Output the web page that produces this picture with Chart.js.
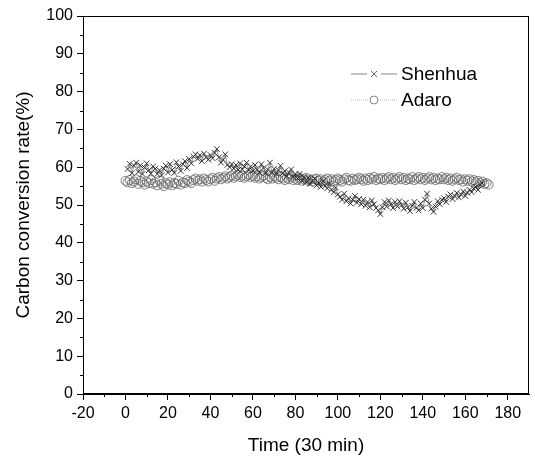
<!DOCTYPE html>
<html>
<head>
<meta charset="utf-8">
<script src="https://cdn.jsdelivr.net/npm/chart.js@4.4.0/dist/chart.umd.min.js"></script>
<style>
	body { margin: 0; background: #fff; }
	#grafico { display: block; }
</style>
</head>
<body>
<canvas id="grafico" width="535" height="461"></canvas>
<script>
// serie
var shenhuaTime = [
	1, 2, 3, 4, 5, 6, 7, 8, 9, 10,
	11, 12, 13, 14, 15, 16, 17, 18, 19, 20,
	21, 22, 23, 24, 25, 26, 27, 28, 29, 30,
	31, 32, 33, 34, 35, 36, 37, 38, 39, 40,
	41, 42, 43, 44, 45, 46, 47, 48, 49, 50,
	51, 52, 53, 54, 55, 56, 57, 58, 59, 60,
	61, 62, 63, 64, 65, 66, 67, 68, 69, 70,
	71, 72, 73, 74, 75, 76, 77, 78, 79, 80,
	81, 82, 83, 84, 85, 86, 87, 88, 89, 90,
	91, 92, 93, 94, 95, 96, 97, 98, 99, 100,
	101, 102, 103, 104, 105, 106, 107, 108, 109, 110,
	111, 112, 113, 114, 115, 116, 117, 118, 119, 120,
	121, 122, 123, 124, 125, 126, 127, 128, 129, 130,
	131, 132, 133, 134, 135, 136, 137, 138, 139, 140,
	141, 142, 143, 144, 145, 146, 147, 148, 149, 150,
	151, 152, 153, 154, 155, 156, 157, 158, 159, 160,
	161, 162, 163, 164, 165, 166, 167, 168
];
var shenhuaRate = [
	59.5, 60.9, 58.4, 60.4, 61.2, 58.8, 60.5, 58.2, 59.9, 61.0,
	59.2, 58.3, 60.2, 59.6, 58.2, 59.2, 57.9, 59.6, 60.4, 58.6,
	60.8, 59.3, 58.5, 61.3, 60.2, 59.0, 60.8, 61.6, 59.8, 62.2,
	61.0, 62.8, 63.4, 62.2, 63.2, 61.6, 63.6, 62.6, 62.0, 63.2,
	62.4, 63.8, 64.8, 62.6, 61.2, 62.0, 63.4, 60.6, 60.0, 60.8,
	59.6, 60.6, 59.3, 61.0, 59.4, 60.2, 61.2, 59.2, 60.2, 59.0,
	60.6, 59.4, 58.6, 60.8, 59.8, 58.4, 59.4, 61.2, 58.6, 59.6,
	58.2, 59.2, 60.4, 58.4, 59.0, 57.6, 58.6, 59.4, 57.4, 58.2,
	57.0, 58.2, 56.4, 57.4, 56.0, 57.2, 55.6, 56.4, 57.0, 55.2,
	55.8, 54.8, 56.4, 55.0, 54.4, 55.6, 54.0, 53.4, 54.6, 52.8,
	52.2, 51.4, 53.0, 51.0, 51.8, 50.4, 51.4, 52.4, 50.6, 51.6,
	50.2, 51.4, 49.8, 50.8, 49.4, 51.2, 50.2, 49.2, 48.6, 47.6,
	49.4, 50.8, 49.6, 51.2, 50.2, 49.2, 50.8, 49.6, 51.0, 50.0,
	49.0, 50.6, 49.4, 48.4, 49.8, 50.8, 49.2, 48.6, 50.4, 49.2,
	51.4, 53.0, 50.4, 49.0, 48.2, 49.6, 51.0, 50.2, 51.4, 51.8,
	50.8, 52.2, 52.8, 51.6, 52.4, 53.2, 52.0, 52.8, 53.6, 52.4,
	53.2, 54.0, 53.4, 54.4, 54.8, 54.0, 55.4, 55.8
];
var adaroTime = [
	0, 1, 2, 3, 4, 5, 6, 7, 8, 9,
	10, 11, 12, 13, 14, 15, 16, 17, 18, 19,
	20, 21, 22, 23, 24, 25, 26, 27, 28, 29,
	30, 31, 32, 33, 34, 35, 36, 37, 38, 39,
	40, 41, 42, 43, 44, 45, 46, 47, 48, 49,
	50, 51, 52, 53, 54, 55, 56, 57, 58, 59,
	60, 61, 62, 63, 64, 65, 66, 67, 68, 69,
	70, 71, 72, 73, 74, 75, 76, 77, 78, 79,
	80, 81, 82, 83, 84, 85, 86, 87, 88, 89,
	90, 91, 92, 93, 94, 95, 96, 97, 98, 99,
	100, 101, 102, 103, 104, 105, 106, 107, 108, 109,
	110, 111, 112, 113, 114, 115, 116, 117, 118, 119,
	120, 121, 122, 123, 124, 125, 126, 127, 128, 129,
	130, 131, 132, 133, 134, 135, 136, 137, 138, 139,
	140, 141, 142, 143, 144, 145, 146, 147, 148, 149,
	150, 151, 152, 153, 154, 155, 156, 157, 158, 159,
	160, 161, 162, 163, 164, 165, 166, 167, 168, 169,
	170, 171
];
var adaroRate = [
	56.4, 56.0, 56.6, 55.8, 56.2, 56.8, 55.6, 56.4, 56.0, 55.4,
	56.2, 55.8, 56.6, 55.6, 56.0, 55.2, 56.4, 55.6, 55.0, 55.8,
	55.4, 56.0, 55.2, 55.8, 55.6, 56.4, 55.4, 56.0, 55.8, 56.6,
	56.2, 55.8, 56.6, 57.0, 56.4, 56.8, 56.2, 57.0, 56.6, 56.2,
	56.8, 57.2, 56.4, 57.0, 57.4, 56.8, 57.2, 57.6, 57.0, 57.4,
	57.8, 57.2, 57.6, 58.0, 57.4, 57.8, 57.2, 57.6, 58.0, 57.4,
	57.8, 57.2, 57.6, 57.0, 57.4, 57.8, 57.2, 56.8, 57.4, 57.0,
	57.6, 57.2, 56.8, 57.4, 57.0, 56.6, 57.2, 56.8, 57.4, 56.6,
	57.0, 56.6, 57.2, 56.4, 56.8, 57.2, 56.4, 56.8, 56.2, 56.8,
	57.0, 56.4, 56.8, 56.2, 56.6, 57.0, 56.4, 56.8, 56.2, 56.6,
	57.0, 56.6, 56.2, 56.8, 57.2, 56.6, 56.4, 57.0, 56.6, 56.8,
	57.2, 56.8, 56.4, 57.0, 56.6, 57.2, 56.8, 57.4, 56.6, 57.0,
	56.8, 57.2, 56.6, 57.0, 57.4, 56.8, 57.2, 56.6, 57.0, 57.4,
	56.8, 57.2, 56.6, 57.0, 56.8, 57.4, 56.6, 57.0, 57.4, 56.8,
	57.2, 56.6, 57.0, 57.4, 56.8, 57.2, 56.6, 57.0, 56.8, 57.4,
	56.8, 57.2, 56.6, 57.0, 56.4, 56.8, 57.2, 56.6, 56.8, 56.2,
	56.8, 56.4, 56.8, 56.2, 56.6, 56.0, 56.4, 55.8, 56.2, 55.6,
	55.8, 55.4
];

var seriesNames = ['Shenhua', 'Adaro'];
var xTicks = [-20, 0, 20, 40, 60, 80, 100, 120, 140, 160, 180];
var xMinorTicks = [-10, 10, 30, 50, 70, 90, 110, 130, 150, 170];
var yTicks = [0, 10, 20, 30, 40, 50, 60, 70, 80, 90, 100];
var yMinorTicks = [5, 15, 25, 35, 45, 55, 65, 75, 85, 95];

var FONT = "'Liberation Sans', Arial, sans-serif";

function punti(xs, ys) {
	var out = [];
	for (var i = 0; i < ys.length; i++) out.push({x: xs[i], y: ys[i]});
	return out;
}

// cornice, tacche minori e legenda dentro il grafico
var decorazioni = {
	id: 'decorazioni',
	afterDraw: function(chart) {
		var ctx = chart.ctx;
		var a = chart.chartArea;
		var sx = chart.scales.x, sy = chart.scales.y;
		ctx.save();
		ctx.strokeStyle = '#000';
		ctx.lineWidth = 1;
		ctx.strokeRect(a.left + 0.5, a.top + 0.5, a.right - a.left - 1, a.bottom - a.top - 1);

		ctx.beginPath();
		xMinorTicks.forEach(function(v) {
			var px = Math.round(sx.getPixelForValue(v)) + 0.5;
			ctx.moveTo(px, a.bottom);
			ctx.lineTo(px, a.bottom + 3);
		});
		yMinorTicks.forEach(function(v) {
			var py = Math.round(sy.getPixelForValue(v)) + 0.5;
			ctx.moveTo(a.left, py);
			ctx.lineTo(a.left - 3, py);
		});
		ctx.stroke();

		// legenda
		var lx = 351, ly = 74;
		ctx.font = '19px ' + FONT;
		ctx.textBaseline = 'middle';
		ctx.fillStyle = '#000';

		ctx.strokeStyle = '#555';
		ctx.lineWidth = 0.7;
		ctx.beginPath();
		ctx.moveTo(lx, ly); ctx.lineTo(lx + 16, ly);
		ctx.moveTo(lx + 30, ly); ctx.lineTo(lx + 46, ly);
		ctx.stroke();
		ctx.strokeStyle = '#222';
		ctx.beginPath();
		ctx.moveTo(lx + 20, ly - 3); ctx.lineTo(lx + 26, ly + 3);
		ctx.moveTo(lx + 26, ly - 3); ctx.lineTo(lx + 20, ly + 3);
		ctx.stroke();
		ctx.fillText(seriesNames[0], lx + 50, ly + 1);

		ly = 100;
		ctx.strokeStyle = '#999';
		ctx.setLineDash([1, 1]);
		ctx.beginPath();
		ctx.moveTo(lx, ly); ctx.lineTo(lx + 17, ly);
		ctx.moveTo(lx + 29, ly); ctx.lineTo(lx + 46, ly);
		ctx.stroke();
		ctx.setLineDash([]);
		ctx.strokeStyle = '#555';
		ctx.beginPath();
		ctx.arc(lx + 23, ly, 4, 0, Math.PI * 2);
		ctx.stroke();
		ctx.fillText(seriesNames[1], lx + 50, ly + 1);
		ctx.restore();
	}
};

var config_grafico = {
	type: 'line',
	data: {
		datasets: [{
			label: seriesNames[0],
			data: punti(shenhuaTime, shenhuaRate),
			borderColor: '#555',
			borderWidth: 0.6,
			pointStyle: 'crossRot',
			pointRadius: 4,
			pointBorderColor: '#222',
			pointBorderWidth: 0.9,
			pointBackgroundColor: 'rgba(0,0,0,0)'
		}, {
			label: seriesNames[1],
			data: punti(adaroTime, adaroRate),
			borderColor: '#999',
			borderWidth: 0.6,
			borderDash: [1, 1],
			pointStyle: 'circle',
			pointRadius: 4.5,
			pointBorderColor: '#666',
			pointBorderWidth: 0.8,
			pointBackgroundColor: 'rgba(255,255,255,0)'
		}]
	},
	options: {
		responsive: false,
		animation: false,
		layout: { padding: { top: 16, right: 6, left: 0, bottom: 0 } },
		plugins: { legend: { display: false }, tooltip: { enabled: false } },
		scales: {
			x: {
				type: 'linear',
				min: -20,
				max: 190,
				afterBuildTicks: function(scale) {
					scale.ticks = xTicks.map(function(v) { return {value: v}; });
				},
				afterFit: function(scale) { scale.height = 67; },
				ticks: {
					color: '#000',
					font: { family: FONT, size: 16 },
					padding: 4,
					maxRotation: 0
				},
				grid: { drawOnChartArea: false, tickLength: 6, tickColor: '#000' },
				border: { color: '#000' },
				title: {
					display: true,
					text: 'Time (30 min)',
					color: '#000',
					font: { family: FONT, size: 19 },
					padding: { top: 0, bottom: 4 }
				}
			},
			y: {
				min: 0,
				max: 100,
				afterBuildTicks: function(scale) {
					scale.ticks = yTicks.map(function(v) { return {value: v}; });
				},
				afterFit: function(scale) { scale.width = 83; },
				ticks: {
					color: '#000',
					font: { family: FONT, size: 16 },
					padding: 4
				},
				grid: { drawOnChartArea: false, tickLength: 6, tickColor: '#000' },
				border: { color: '#000' },
				title: {
					display: true,
					text: 'Carbon conversion rate(%)',
					color: '#000',
					font: { family: FONT, size: 19 },
					padding: { top: 12, bottom: 0 }
				}
			}
		}
	},
	plugins: [decorazioni]
};

var ctx = document.getElementById('grafico').getContext('2d');
var grafico = new Chart(ctx, config_grafico);
</script>
</body>
</html>
